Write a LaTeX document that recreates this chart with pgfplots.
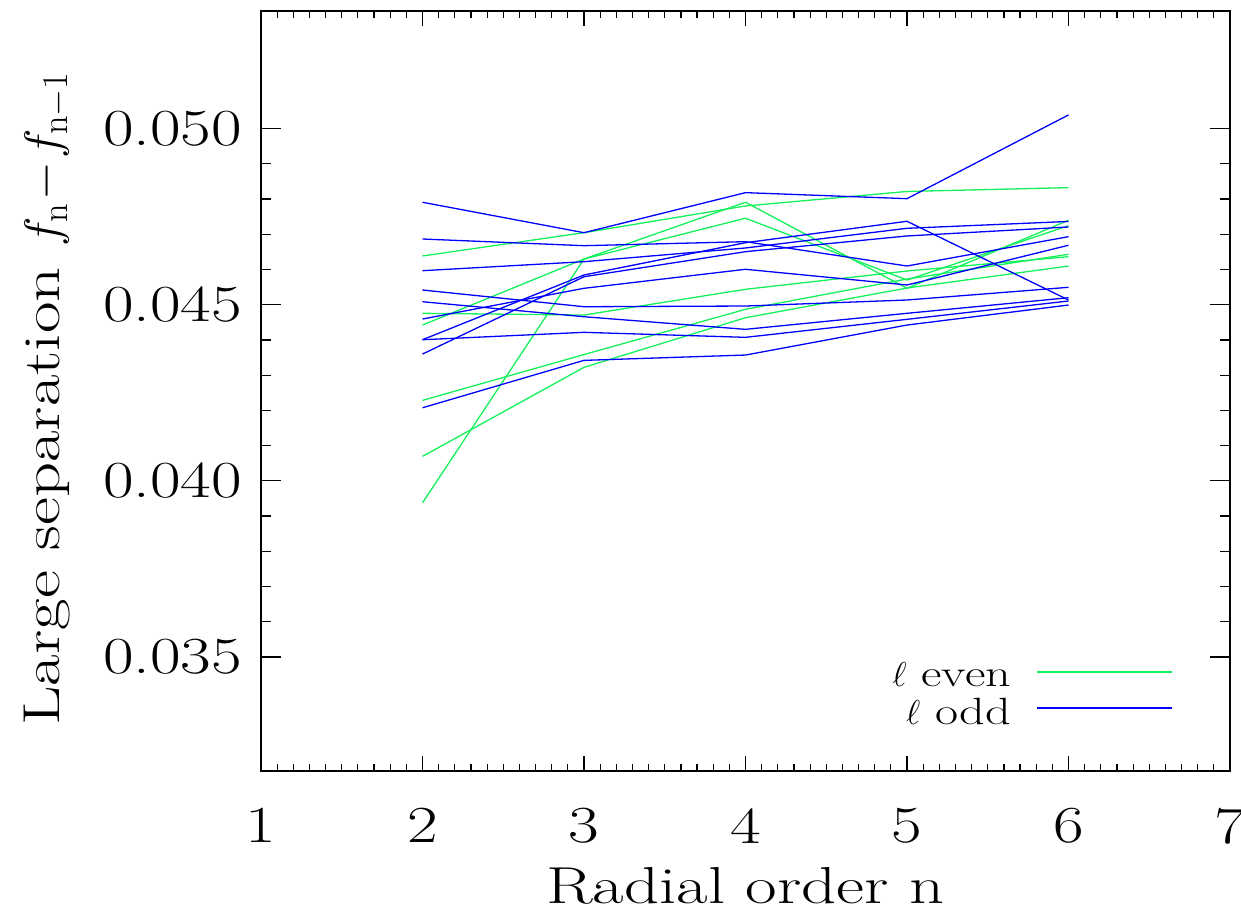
\documentclass[border=0pt]{standalone}
\usepackage{fontspec}
\usepackage{pgfplots}
\pgfplotsset{compat=1.18}
\definecolor{lgreen}{RGB}{20,240,90}
\definecolor{lblue}{RGB}{0,0,255}
\newfontfamily\wideLM{Latin Modern Roman}[FakeStretch=1.32]
\newfontfamily\widerLM{Latin Modern Roman}[FakeStretch=1.28]
\newcommand{\tickf}{\widerLM\fontsize{26}{26}\selectfont}
\newcommand{\labf}{\wideLM\fontsize{26}{26}\selectfont}
\begin{document}
\begin{tikzpicture}
\useasboundingbox (-130.5pt,-70.5pt) rectangle (490pt,385.5pt);
\begin{axis}[
  at={(0,0)}, anchor=south west,
  scale only axis, width=484.5pt, height=380pt,
  xmin=1, xmax=7, ymin=0.03176, ymax=0.05334,
  xtick={1,2,3,4,5,6,7}, minor x tick num=9,
  ytick={0.035,0.040,0.045,0.050}, minor y tick num=4,
  scaled y ticks=false,
  /pgf/number format/assume math mode=true,
  yticklabel style={/pgf/number format/fixed,/pgf/number format/fixed zerofill,/pgf/number format/precision=3,font=\tickf},
  xticklabel style={font=\tickf},
  xticklabel shift=15.2pt,
  yticklabel shift=6pt,
  axis line style={line width=0.8pt, black},
  tick style={line width=0.6pt, black},
  major tick length=10pt, minor tick length=5pt,
  every major x tick/.append style={/pgfplots/major tick length=7.5pt},
  every minor x tick/.append style={/pgfplots/minor tick length=3.7pt},
  xlabel={Radial order n},
  ylabel={Large separation $f_{\mathrm{n}}\!-\!f_{\mathrm{n-1}}$},
  every axis x label/.style={at={(axis description cs:0.5,0)},anchor=base,yshift=-66pt,font=\labf},
  every axis y label/.style={at={(axis description cs:0,0.49)},xshift=-100.5pt,rotate=90,anchor=base,font=\labf},
  legend style={at={(axis description cs:1,0)}, anchor=south east, xshift=-28.5pt, yshift=22pt,
    draw=none, fill=none, inner sep=0pt, outer sep=0pt,
    font=\wideLM\fontsize{19}{19}\selectfont,
    row sep=4pt, nodes={inner sep=0pt},
    /tikz/every odd column/.append style={column sep=12.5pt}},
  legend cell align=right, legend plot pos=right,
  legend image code/.code={\draw[#1, line width=1pt] (0pt,0.23em) -- (67.5pt,0.23em);},
  every axis plot/.append style={line width=0.65pt},
]
\addlegendimage{color=lgreen}
\addlegendentry{$\ell$ even}
\addlegendimage{color=lblue}
\addlegendentry{$\ell$ odd}
% l even
\addplot[lgreen, forget plot] coordinates {(2,0.046384)(3,0.047045)(4,0.047804)(5,0.048216)(6,0.048324)};
\addplot[lgreen, forget plot] coordinates {(2,0.044756)(3,0.044707)(4,0.045438)(5,0.045957)(6,0.046364)};
\addplot[lgreen, forget plot] coordinates {(2,0.044423)(3,0.046298)(4,0.047909)(5,0.045466)(6,0.047398)};
\addplot[lgreen, forget plot] coordinates {(2,0.042284)(3,0.043585)(4,0.044869)(5,0.045730)(6,0.046432)};
\addplot[lgreen, forget plot] coordinates {(2,0.040693)(3,0.043222)(4,0.044631)(5,0.045474)(6,0.046099)};
\addplot[lgreen, forget plot] coordinates {(2,0.039375)(3,0.046298)(4,0.047455)(5,0.045702)(6,0.047244)};
% l odd
\addplot[lblue, forget plot] coordinates {(2,0.047909)(3,0.047045)(4,0.048182)(5,0.048011)(6,0.050389)};
\addplot[lblue, forget plot] coordinates {(2,0.046866)(3,0.046676)(4,0.046790)(5,0.046099)(6,0.046932)};
\addplot[lblue, forget plot] coordinates {(2,0.045966)(3,0.046222)(4,0.046611)(5,0.047170)(6,0.047364)};
\addplot[lblue, forget plot] coordinates {(2,0.045418)(3,0.044943)(4,0.044963)(5,0.045134)(6,0.045494)};
\addplot[lblue, forget plot] coordinates {(2,0.045085)(3,0.044659)(4,0.044301)(5,0.044756)(6,0.045199)};
\addplot[lblue, forget plot] coordinates {(2,0.044594)(3,0.045466)(4,0.046006)(5,0.045560)(6,0.046688)};
\addplot[lblue, forget plot] coordinates {(2,0.044006)(3,0.045844)(4,0.046761)(5,0.047369)(6,0.045134)};
\addplot[lblue, forget plot] coordinates {(2,0.044006)(3,0.044216)(4,0.044074)(5,0.044585)(6,0.045105)};
\addplot[lblue, forget plot] coordinates {(2,0.043599)(3,0.045795)(4,0.046506)(5,0.046952)(6,0.047207)};
\addplot[lblue, forget plot] coordinates {(2,0.042074)(3,0.043420)(4,0.043571)(5,0.044423)(6,0.044991)};
\end{axis}
\end{tikzpicture}
\end{document}
